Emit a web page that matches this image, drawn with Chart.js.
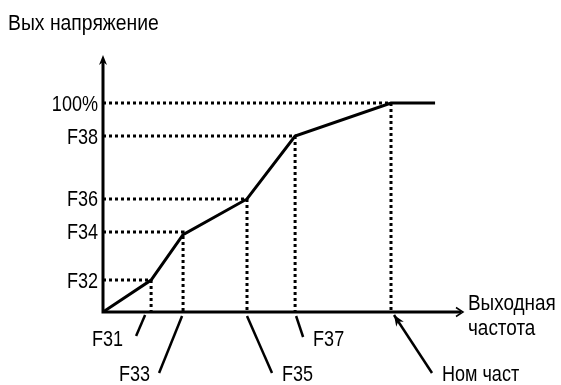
<!DOCTYPE html>
<html>
<head>
<meta charset="utf-8">
<script src="https://cdn.jsdelivr.net/npm/chart.js@4.4.0/dist/chart.umd.min.js"></script>
<style>
body { margin: 0; background: #fff; }
#wrap { width: 561px; height: 385px; position: relative; }
</style>
</head>
<body>
<div id="wrap"><canvas id="vfChart"></canvas></div>
<script>
// break points of the V/f curve (x: % of nominal frequency, y: % of output voltage)
var curveX = [0, 16.7, 27.8, 50, 66.7, 100, 115.3];
var curveY = [0, 15.3, 37, 54.1, 84.2, 100, 100];

// voltage ticks on the vertical axis
var voltTicks = [15.3, 38.3, 54.1, 84.2, 100];
var voltLabels = ['F32', 'F34', 'F36', 'F38', '100%'];

// frequency labels under the horizontal axis, and the break point each one points at
var freqLabels = ['F31', 'F33', 'F35', 'F37', 'Ном част'];
var freqPoints = [1, 2, 3, 4, 5];

var FONT = "'Liberation Sans', Arial, sans-serif";
var NARROW = 0.82; // squeeze Liberation Sans to look like Arial Narrow

// leader line start/end and text anchor, in px offsets from the point on the x axis
var leaderStyle = [
    { from: [-6, 3], to: [-15, 24], text: [-28, 34], align: 'right' },
    { from: [-1, 4], to: [-24, 61], text: [-33, 69], align: 'right' },
    { from: [0, 4], to: [25, 61], text: [35, 69], align: 'left' },
    { from: [1, 4], to: [8, 25], text: [18, 34], align: 'left' },
    { from: [3, 3], to: [41, 61], text: [51, 69], align: 'left', arrow: true }
];

// dotted guides: from the y axis across to the break point, then down to the x axis
var guideSets = voltTicks.map(function (v, i) {
    var px = curveX[freqPoints[i]];
    return {
        data: [{ x: 0, y: v }, { x: px, y: v }, { x: px, y: 0 }],
        borderColor: '#000',
        borderWidth: 3,
        borderDash: [3, 3],
        borderCapStyle: 'butt',
        pointRadius: 0,
        fill: false,
        tension: 0
    };
});

var curveSet = {
    data: curveX.map(function (x, i) { return { x: x, y: curveY[i] }; }),
    borderColor: '#000',
    borderWidth: 3,
    borderJoinStyle: 'miter',
    pointRadius: 0,
    fill: false,
    tension: 0
};

function arrowHead(ctx, tx, ty, angle, len, half) {
    ctx.save();
    ctx.translate(tx, ty);
    ctx.rotate(angle);
    ctx.beginPath();
    ctx.moveTo(0, 0);
    ctx.lineTo(-len, -half);
    ctx.lineTo(-len * 0.7, 0);
    ctx.lineTo(-len, half);
    ctx.closePath();
    ctx.fill();
    ctx.restore();
}

function narrowText(ctx, text, x, y, align, squeeze) {
    ctx.save();
    ctx.translate(x, y);
    ctx.scale(squeeze || NARROW, 1);
    ctx.textAlign = align;
    ctx.fillText(text, 0, 0);
    ctx.restore();
}

var sketchPlugin = {
    id: 'sketch',
    afterDraw: function (chart) {
        var ctx = chart.ctx, xs = chart.scales.x, ys = chart.scales.y;
        var x0 = xs.getPixelForValue(0), y0 = ys.getPixelForValue(0);
        var xEnd = xs.getPixelForValue(xs.max), yEnd = ys.getPixelForValue(ys.max);
        ctx.save();
        ctx.strokeStyle = '#000';
        ctx.fillStyle = '#000';
        ctx.lineCap = 'butt';

        // axes
        ctx.lineWidth = 3;
        ctx.beginPath();
        ctx.moveTo(x0, y0 + 1.5);
        ctx.lineTo(x0, yEnd + 6);
        ctx.moveTo(x0 - 1.5, y0);
        ctx.lineTo(xEnd - 2, y0);
        ctx.stroke();
        arrowHead(ctx, x0, yEnd, -Math.PI / 2, 10, 4);
        ctx.lineWidth = 1.5;
        ctx.beginPath();
        ctx.moveTo(xEnd - 7, y0 - 4.5);
        ctx.lineTo(xEnd, y0);
        ctx.lineTo(xEnd - 7, y0 + 4.5);
        ctx.stroke();

        ctx.font = '22px ' + FONT;
        ctx.textBaseline = 'alphabetic';

        // voltage tick labels
        ys.ticks.forEach(function (t, i) {
            narrowText(ctx, voltLabels[i], x0 - 5, ys.getPixelForValue(t.value) + 7.5, 'right');
        });

        // frequency labels with leader lines
        ctx.lineWidth = 2.5;
        freqLabels.forEach(function (lab, i) {
            var s = leaderStyle[i];
            var px = xs.getPixelForValue(curveX[freqPoints[i]]);
            ctx.beginPath();
            ctx.moveTo(px + s.to[0], y0 + s.to[1]);
            ctx.lineTo(px + s.from[0], y0 + s.from[1]);
            ctx.stroke();
            if (s.arrow) {
                var ang = Math.atan2(s.from[1] - s.to[1], s.from[0] - s.to[0]);
                arrowHead(ctx, px + s.from[0], y0 + s.from[1], ang, 11, 4.5);
            }
            narrowText(ctx, lab, px + s.text[0], y0 + s.text[1], s.align);
        });

        // axis titles
        narrowText(ctx, 'Выходная', xEnd + 5, y0 - 2, 'left', 0.86);
        narrowText(ctx, 'частота', xEnd + 5, y0 + 23, 'left', 0.86);
        narrowText(ctx, 'Вых напряжение', 8, 30, 'left', 0.88);
        ctx.restore();
    }
};

var chart = new Chart(document.getElementById('vfChart'), {
    type: 'line',
    data: { datasets: [curveSet].concat(guideSets) },
    options: {
        responsive: true,
        maintainAspectRatio: false,
        animation: false,
        layout: { padding: { left: 0, right: 98, top: 55, bottom: 73 } },
        plugins: { legend: { display: false }, tooltip: { enabled: false } },
        scales: {
            x: { type: 'linear', min: 0, max: 125, display: false },
            y: {
                type: 'linear',
                min: 0,
                max: 123,
                grid: { display: false, drawTicks: false },
                border: { display: false },
                afterBuildTicks: function (scale) {
                    scale.ticks = voltTicks.map(function (v) { return { value: v }; });
                },
                afterFit: function (scale) { scale.width = 103; },
                ticks: { display: false }
            }
        }
    },
    plugins: [sketchPlugin]
});
</script>
</body>
</html>
